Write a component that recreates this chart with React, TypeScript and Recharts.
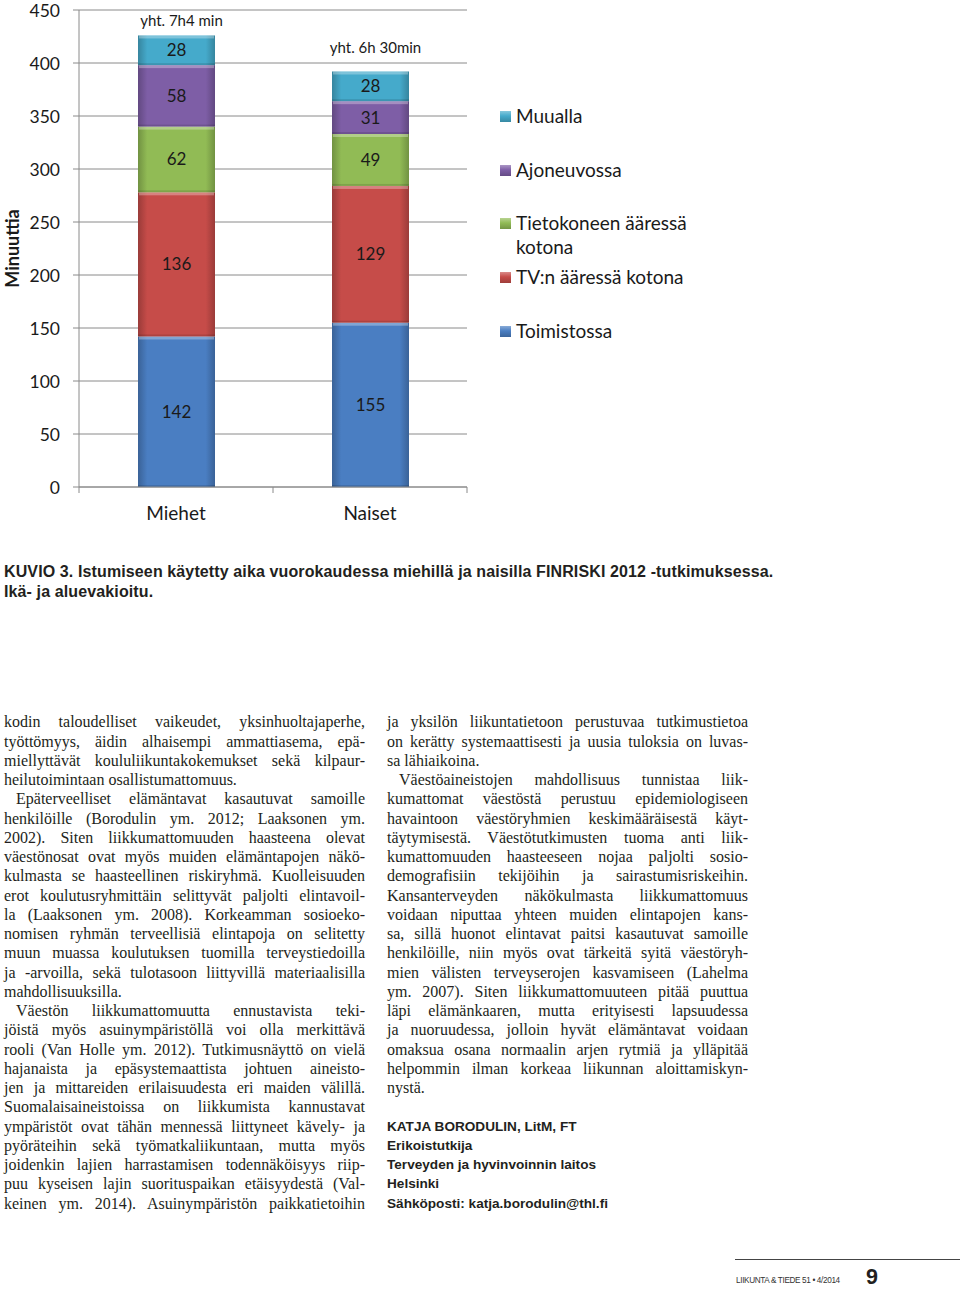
import React from 'react';
import {
  BarChart, Bar, XAxis, YAxis, CartesianGrid, Legend, LabelList,
} from 'recharts';

// Sitting time per day, minutes (FINRISKI 2012)
const categories = ['Miehet', 'Naiset'];
const toimistossa = [142, 155];
const tvKotona = [136, 129];
const tietokoneKotona = [62, 49];
const ajoneuvossa = [58, 31];
const muualla = [28, 28];
const totalLabels = ['yht. 7h4 min', 'yht. 6h 30min'];
const yTicks = [0, 50, 100, 150, 200, 250, 300, 350, 400, 450];

const series = [
  { key: 'toimistossa', name: 'Toimistossa', color: '#4a7ec2', values: toimistossa },
  { key: 'tv', name: 'TV:n ääressä kotona', color: '#c64c49', values: tvKotona },
  { key: 'tietokone', name: 'Tietokoneen ääressä kotona', color: '#91bb55', values: tietokoneKotona },
  { key: 'ajoneuvo', name: 'Ajoneuvossa', color: '#7e5ea6', values: ajoneuvossa },
  { key: 'muualla', name: 'Muualla', color: '#45aacb', values: muualla },
];

const data = categories.map((name, i) => {
  const row: Record<string, string | number> = { name };
  series.forEach((s) => { row[s.key] = s.values[i]; });
  return row;
});

const CHART_W = 720;
const CHART_H = 530;
const MARGIN = { top: 10, right: 253, left: 0, bottom: 13 };
const Y_AXIS_W = 79;
const PLOT_W = CHART_W - MARGIN.left - MARGIN.right - Y_AXIS_W;
const GRID = '#8a8a8a';
const FONT = "Lato, 'Open Sans', sans-serif";

const shade = (hex: string, f: number) => {
  const n = parseInt(hex.slice(1), 16);
  const ch = [(n >> 16) & 255, (n >> 8) & 255, n & 255].map((c) =>
    Math.max(0, Math.min(255, Math.round(f < 0 ? c * (1 + f) : c + (255 - c) * f)))
  );
  return `rgb(${ch.join(',')})`;
};

const BevelBar = (props: any) => {
  const { x, y, width, height, gid } = props;
  if (!height || height <= 0) return null;
  return (
    <g>
      <rect x={x} y={y} width={width} height={height} fill={`url(#grad-${gid})`} />
      <rect x={x + 1} y={y} width={width - 2} height={Math.min(3, height)} fill="#fff" opacity={0.3} />
      <rect x={x} y={y + height - 2} width={width} height={2} fill="#000" opacity={0.12} />
    </g>
  );
};

const XTick = (props: any) => {
  const { x, y, payload, index } = props;
  const half = PLOT_W / categories.length / 2;
  return (
    <g>
      <line x1={x - half} y1={y} x2={x - half} y2={y + 6} stroke={GRID} />
      {index === categories.length - 1 && (
        <line x1={x + half} y1={y} x2={x + half} y2={y + 6} stroke={GRID} />
      )}
      <text x={x} y={y + 33} textAnchor="middle" fontSize={19} fill="#1a1a1a" fontFamily={FONT}>
        {payload.value}
      </text>
    </g>
  );
};

const TotalLabel = (props: any) => {
  const { x, y, width, index } = props;
  const lift = index === 0 ? 15 : 24;
  return (
    <text x={x + width / 2 + 5} y={y - lift} dy="0.35em" textAnchor="middle"
      fontSize={15} fill="#1a1a1a" fontFamily={FONT}>
      {totalLabels[index]}
    </text>
  );
};

const order = (name: string) => series.findIndex((s) => s.name === name);

const LegendContent = ({ payload }: any) => (
  <div style={{ fontFamily: FONT, fontSize: 19, color: '#1a1a1a' }}>
    {[...(payload || [])].sort((a: any, b: any) => order(b.value) - order(a.value)).map((item: any) => (
      <div key={item.value} style={{ height: 53.7, display: 'flex', alignItems: 'flex-start' }}>
        <span style={{
          width: 11, height: 11, marginTop: 7, marginRight: 5, flex: 'none',
          background: `linear-gradient(180deg, ${shade(item.color, 0.35)}, ${item.color} 45%, ${shade(item.color, -0.2)})`,
        }} />
        <span style={{ lineHeight: '24px', width: 195 }}>{item.value}</span>
      </div>
    ))}
  </div>
);

const Chart = () => (
  <BarChart width={CHART_W} height={CHART_H} data={data} margin={MARGIN}>
    <defs>
      {series.map((s) => (
        <linearGradient key={s.key} id={`grad-${s.key}`} x1="0" y1="0" x2="1" y2="0">
          <stop offset="0%" stopColor={shade(s.color, -0.22)} />
          <stop offset="12%" stopColor={s.color} />
          <stop offset="88%" stopColor={s.color} />
          <stop offset="100%" stopColor={shade(s.color, -0.22)} />
        </linearGradient>
      ))}
    </defs>
    <CartesianGrid vertical={false} stroke={GRID} />
    <XAxis dataKey="name" stroke={GRID} tickLine={false} tickSize={0} tickMargin={0}
      height={30} tick={<XTick />} interval={0} />
    <YAxis width={Y_AXIS_W} domain={[0, 450]} ticks={yTicks} interval={0} stroke={GRID}
      tickSize={6} tickMargin={13}
      tick={{ fill: '#1a1a1a', fontSize: 17.5, fontFamily: FONT, dy: 1 }}
      label={{
        content: ({ viewBox }: any) => (
          <text x={viewBox.x + 12} y={viewBox.y + viewBox.height / 2} transform={`rotate(-90 ${viewBox.x + 12} ${viewBox.y + viewBox.height / 2})`}
            textAnchor="middle" dominantBaseline="central" fontSize={18} fontWeight="bold"
            fill="#1a1a1a" fontFamily={FONT}>Minuuttia</text>
        ),
      }} />
    <Legend layout="vertical" align="center" verticalAlign="middle"
      wrapperStyle={{ left: 500, top: 104, width: 215 }} content={<LegendContent />} />
    {series.map((s, i) => (
      <Bar key={s.key} dataKey={s.key} name={s.name} stackId="a" fill={s.color} barSize={77}
        isAnimationActive={false} shape={(p: any) => <BevelBar {...p} gid={s.key} />}>
        <LabelList dataKey={s.key} position="center" fill="#1a1a1a" fontSize={17} fontFamily={FONT} />
        {i === series.length - 1 && <LabelList dataKey={s.key} content={<TotalLabel />} />}
      </Bar>
    ))}
  </BarChart>
);

const leftParas = [
  ['kodin taloudelliset vaikeudet, yksinhuoltajaperhe,', 'työttömyys, äidin alhaisempi ammattiasema, epä-',
    'miellyttävät koululiikuntakokemukset sekä kilpaur-', 'heilutoimintaan osallistumattomuus.'],
  ['Epäterveelliset elämäntavat kasautuvat samoille', 'henkilöille (Borodulin ym. 2012; Laaksonen ym.',
    '2002). Siten liikkumattomuuden haasteena olevat', 'väestönosat ovat myös muiden elämäntapojen näkö-',
    'kulmasta se haasteellinen riskiryhmä. Kuolleisuuden', 'erot koulutusryhmittäin selittyvät paljolti elintavoil-',
    'la (Laaksonen ym. 2008). Korkeamman sosioeko-', 'nomisen ryhmän terveellisiä elintapoja on selitetty',
    'muun muassa koulutuksen tuomilla terveystiedoilla', 'ja -arvoilla, sekä tulotasoon liittyvillä materiaalisilla',
    'mahdollisuuksilla.'],
  ['Väestön liikkumattomuutta ennustavista teki-', 'jöistä myös asuinympäristöllä voi olla merkittävä',
    'rooli (Van Holle ym. 2012). Tutkimusnäyttö on vielä', 'hajanaista ja epäsystemaattista johtuen aineisto-',
    'jen ja mittareiden erilaisuudesta eri maiden välillä.', 'Suomalaisaineistoissa on liikkumista kannustavat',
    'ympäristöt ovat tähän mennessä liittyneet kävely- ja', 'pyöräteihin sekä työmatkaliikuntaan, mutta myös',
    'joidenkin lajien harrastamisen todennäköisyys riip-', 'puu kyseisen lajin suorituspaikan etäisyydestä (Val-',
    'keinen ym. 2014). Asuinympäristön paikkatietoihin'],
];

const rightParas = [
  ['ja yksilön liikuntatietoon perustuvaa tutkimustietoa', 'on kerätty systemaattisesti ja uusia tuloksia on luvas-',
    'sa lähiaikoina.'],
  ['Väestöaineistojen mahdollisuus tunnistaa liik-', 'kumattomat väestöstä perustuu epidemiologiseen',
    'havaintoon väestöryhmien keskimääräisestä käyt-', 'täytymisestä. Väestötutkimusten tuoma anti liik-',
    'kumattomuuden haasteeseen nojaa paljolti sosio-', 'demografisiin tekijöihin ja sairastumisriskeihin.',
    'Kansanterveyden näkökulmasta liikkumattomuus', 'voidaan niputtaa yhteen muiden elintapojen kans-',
    'sa, sillä huonot elintavat paitsi kasautuvat samoille', 'henkilöille, niin myös ovat tärkeitä syitä väestöryh-',
    'mien välisten terveyserojen kasvamiseen (Lahelma', 'ym. 2007). Siten liikkumattomuuteen pitää puuttua',
    'läpi elämänkaaren, mutta erityisesti lapsuudessa', 'ja nuoruudessa, jolloin hyvät elämäntavat voidaan',
    'omaksua osana normaalin arjen rytmiä ja ylläpitää', 'helpommin ilman korkeaa liikunnan aloittamiskyn-',
    'nystä.'],
];

const authorLines = ['KATJA BORODULIN, LitM, FT', 'Erikoistutkija', 'Terveyden ja hyvinvoinnin laitos',
  'Helsinki', 'Sähköposti: katja.borodulin@thl.fi'];

const LINE_H = 19.25;
const bodyStyle: React.CSSProperties = {
  fontFamily: "'Liberation Serif', 'DejaVu Serif', serif", fontSize: 16, lineHeight: `${LINE_H}px`,
  color: '#231f20', width: 361,
};

const Column = ({ paras, continues }: { paras: string[][]; continues: boolean }) => (
  <div style={bodyStyle}>
    {paras.map((lines, pi) => lines.map((line, li) => {
      const last = li === lines.length - 1 && !(continues && pi === paras.length - 1);
      return (
        <div key={`${pi}-${li}`} style={{
          whiteSpace: 'nowrap', textAlign: 'justify', textAlignLast: last ? 'left' : 'justify',
          paddingLeft: pi > 0 && li === 0 ? 12 : 0,
        }}>{line}</div>
      );
    }))}
  </div>
);

const sansBold = "'Liberation Sans', Arial, sans-serif";

export default function App() {
  return (
    <div style={{ position: 'absolute', left: 0, top: 0, width: 960, height: 1289, background: '#fff', overflow: 'hidden' }}>
      <div style={{ position: 'absolute', left: 0, top: 0 }}>
        <Chart />
      </div>
      <div style={{
        position: 'absolute', left: 4, top: 562, fontFamily: sansBold, fontWeight: 'bold',
        fontSize: 16, letterSpacing: 0.12, lineHeight: '20px', color: '#231f20', whiteSpace: 'nowrap',
      }}>
        <div>KUVIO 3. Istumiseen käytetty aika vuorokaudessa miehillä ja naisilla FINRISKI 2012 -tutkimuksessa.</div>
        <div>Ikä- ja aluevakioitu.</div>
      </div>
      <div style={{ position: 'absolute', left: 4, top: 712.4 }}>
        <Column paras={leftParas} continues />
      </div>
      <div style={{ position: 'absolute', left: 387, top: 712.4 }}>
        <Column paras={rightParas} continues={false} />
        <div style={{
          marginTop: LINE_H, fontFamily: sansBold, fontWeight: 'bold',
          fontSize: 13.6, lineHeight: `${LINE_H}px`, color: '#231f20',
        }}>
          {authorLines.map((l) => <div key={l}>{l}</div>)}
        </div>
      </div>
      <div style={{ position: 'absolute', left: 735, top: 1259, width: 225, height: 1, background: '#444' }} />
      <div style={{
        position: 'absolute', left: 736, top: 1276, fontFamily: sansBold, fontSize: 8.2, lineHeight: '10px',
        letterSpacing: -0.35, color: '#333', whiteSpace: 'nowrap',
      }}>LIIKUNTA &amp; TIEDE 51 • 4/2014</div>
      <div style={{
        position: 'absolute', left: 866, top: 1264.5, fontFamily: sansBold, fontWeight: 'bold',
        fontSize: 21.5, color: '#231f20',
      }}>9</div>
    </div>
  );
}
